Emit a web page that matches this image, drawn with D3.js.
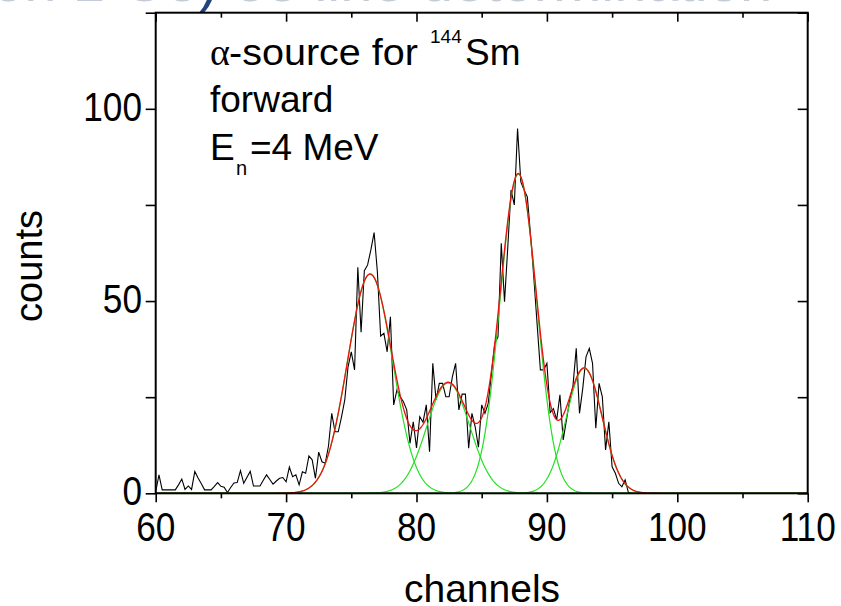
<!DOCTYPE html>
<html><head><meta charset="utf-8">
<script src="https://cdn.jsdelivr.net/npm/d3@7"></script>
<style>
body{margin:0;background:#fff;}
svg{display:block;font-family:"Liberation Sans",Arial,sans-serif;}
</style>
</head><body>
<svg id="chart" width="841" height="606"></svg>
<script>
// ---------------- data ----------------
const channelStart = 60;
const channelStep = 0.25;
const counts = [
 0.4,4.8,0.9,0.9,0.9,0.9,0.9,2.2,3.7,1.0,1.9,1.0,5.7,4.0,2.5,0.9,
 0.9,0.9,1.8,2.8,1.8,1.6,0.2,1.5,2.7,2.8,5.9,2.6,4.2,5.7,1.9,1.9,
 1.9,3.4,4.8,3.6,2.4,3.2,3.9,4.1,3.0,6.8,4.3,4.8,2.2,5.6,5.2,9.7,
 8.7,3.9,10.7,8.2,7.8,12.3,20.8,16.0,16.0,19.9,24.3,32.9,36.8,32.1,
 58.8,41.9,57.9,59.4,63.3,67.8,57.6,40.9,41.6,36.8,45.9,23.0,26.9,25.1,
 23.8,21.7,13.0,18.6,11.8,19.9,18.5,23.0,10.8,33.8,24.3,28.6,28.6,25.1,
 25.1,30.3,33.8,21.7,25.8,25.8,11.7,20.8,17.3,12.0,23.0,20.8,23.4,31.2,
 39.0,40.7,65.0,49.8,64.0,78.9,75.0,94.9,81.0,78.9,77.1,67.0,56.0,44.0,
 32.1,32.1,33.8,21.0,22.0,19.1,25.6,13.9,19.1,24.3,28.0,37.7,20.8,27.3,
 35.5,37.7,33.8,16.9,28.6,25.1,11.3,18.6,6.9,5.2,2.6,1.7,3.5,0.2,0
];
// Gaussian fit components
const peakCenters = [76.44, 82.44, 87.81, 92.87];
const peakHeights = [57.0, 28.7, 83.0, 32.5];
const peakSigmas  = [1.72, 1.65, 1.40, 1.38];

const xTicks = [60, 70, 80, 90, 100, 110];
const xMinorTicks = [65, 75, 85, 95, 105];
const yTicks = [0, 50, 100];
const yMinorTicks = [25, 75, 125];

// ---------------- layout ----------------
const plot = {left: 155.7, right: 807.7, top: 12.7, bottom: 493.3};
const x = d3.scaleLinear().domain([60, 110]).range([plot.left, plot.right]);
const y = d3.scaleLinear().domain([0, 125]).range([plot.bottom, plot.top]);

const svg = d3.select("#chart");

// cropped slide title at the very top (only its lower edge is visible)
const title = svg.append("text").attr("x", -8).attr("y", 1)
  .attr("font-size", 58).attr("fill", "#c3cbd7");
title.append("tspan").text("on 1 Go");
title.append("tspan").attr("fill", "#24437a").text(")");
title.append("tspan").text(" oo  line determination");

// data
const dataPts = counts.map((c, i) => [channelStart + i * channelStep, c]);

const fitX = d3.range(60, 110.0001, 0.05);
const comp = (k, xv) => peakHeights[k] * Math.exp(-Math.pow(xv - peakCenters[k], 2) / (2 * peakSigmas[k] * peakSigmas[k]));
const line = d3.line().x(d => x(d[0])).y(d => y(d[1]));

const g = svg.append("g");
g.append("path").datum(dataPts).attr("d", line)
  .attr("fill", "none").attr("stroke", "#000").attr("stroke-width", 1.1);

peakCenters.forEach((c, k) => {
  g.append("path").datum(fitX.map(xv => [xv, comp(k, xv)])).attr("d", line)
    .attr("fill", "none").attr("stroke", "#22e022").attr("stroke-width", 1.2);
});
g.append("path").datum(fitX.map(xv => [xv, d3.sum(peakCenters, (c, k) => comp(k, xv))])).attr("d", line)
  .attr("fill", "none").attr("stroke", "#ee1111").attr("stroke-width", 1.3);

// axes (ticks)
const ax = svg.append("g");
ax.append("g").attr("transform", `translate(0,${plot.bottom})`)
  .call(d3.axisBottom(x).tickValues(xTicks).tickSize(9).tickFormat(""));
ax.append("g").attr("transform", `translate(0,${plot.bottom})`)
  .call(d3.axisBottom(x).tickValues(xMinorTicks).tickSize(5).tickFormat(""));
ax.append("g").attr("transform", `translate(0,${plot.top})`)
  .call(d3.axisBottom(x).tickValues(xTicks).tickSize(9).tickFormat(""));
ax.append("g").attr("transform", `translate(0,${plot.top})`)
  .call(d3.axisBottom(x).tickValues(xMinorTicks).tickSize(5).tickFormat(""));
ax.append("g").attr("transform", `translate(${plot.left},0)`)
  .call(d3.axisLeft(y).tickValues(yTicks.concat(yMinorTicks)).tickSize(10).tickFormat(""));
ax.append("g").attr("transform", `translate(${plot.right},0)`)
  .call(d3.axisLeft(y).tickValues(yTicks.concat(yMinorTicks)).tickSize(10).tickFormat(""));
ax.selectAll(".domain").remove();
ax.selectAll(".tick line").attr("stroke", "#000").attr("stroke-width", 1.6);

svg.append("rect").attr("x", plot.left).attr("y", plot.top)
  .attr("width", plot.right - plot.left).attr("height", plot.bottom - plot.top)
  .attr("fill", "none").attr("stroke", "#000").attr("stroke-width", 2);

// tick labels
xTicks.forEach(v => {
  svg.append("text").attr("transform", `translate(${x(v)},541) scale(0.88,1)`)
    .attr("text-anchor", "middle").attr("font-size", 40).text(v);
});
yTicks.forEach(v => {
  svg.append("text").attr("transform", `translate(142,${y(v) + 12}) scale(0.88,1)`)
    .attr("text-anchor", "end").attr("font-size", 40).text(v);
});

// axis titles
svg.append("text").attr("transform", "translate(41.5,266) rotate(-90)")
  .attr("text-anchor", "middle").attr("font-size", 38).text("counts");
svg.append("text").attr("x", 482).attr("y", 602)
  .attr("text-anchor", "middle").attr("font-size", 39).text("channels");

// annotation
const a1 = svg.append("text").attr("y", 65).attr("font-size", 37);
a1.append("tspan").attr("x", 210).attr("font-family", "'Liberation Serif',serif").attr("font-size", 38).text("α");
a1.append("tspan").attr("x", 229).attr("textLength", 189).attr("lengthAdjust", "spacingAndGlyphs").text("-source for");
a1.append("tspan").attr("x", 430).attr("font-size", 19).attr("dy", -22).text("144");
a1.append("tspan").attr("x", 465).attr("dy", 22).text("Sm");
svg.append("text").attr("x", 210).attr("y", 111.7).attr("font-size", 37).text("forward");
const a3 = svg.append("text").attr("y", 160).attr("font-size", 37);
a3.append("tspan").attr("x", 210).text("E");
a3.append("tspan").attr("x", 236).attr("font-size", 20).attr("dy", 15).text("n");
a3.append("tspan").attr("x", 250).attr("dy", -15).text("=4 MeV");
</script>
</body></html>
